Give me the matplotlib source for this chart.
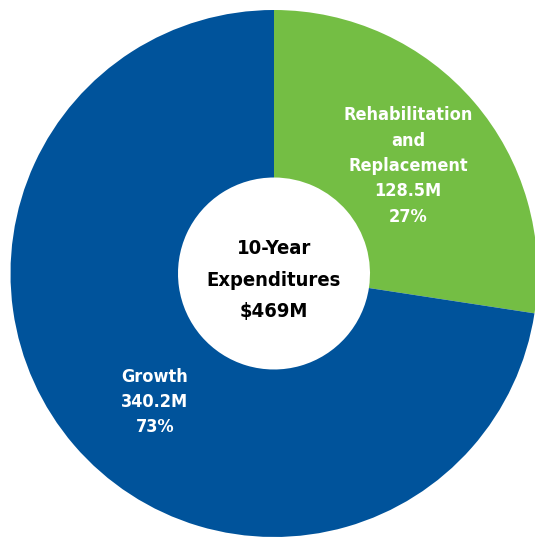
import matplotlib.pyplot as plt

# Data
categories = ["Rehabilitation\nand\nReplacement", "Growth"]
values = [128.5, 340.2]
percents = ["27%", "73%"]
colors = ["#74BE44", "#00539B"]
total_label = "10-Year\nExpenditures\n$469M"

W, H = 535, 538
fig = plt.figure(figsize=(W / 100, H / 100), dpi=100)
ax = fig.add_axes([0, 0, 1, 1])

# Donut, in pixel coordinates (y up)
cx, cy = 274, H - 273.5
R_out, R_in = 263.5, 96
ax.pie(values, colors=colors, startangle=90, counterclock=False,
       radius=R_out, center=(cx, cy),
       wedgeprops=dict(width=R_out - R_in, linewidth=0))
ax.set_xlim(0, W)
ax.set_ylim(0, H)
ax.set_aspect('auto')
ax.axis('off')

font = dict(family='DejaVu Sans', weight='bold', stretch='condensed')

# Slice labels
ax.text(408, H - 166, f"{categories[0]}\n{values[0]}M\n{percents[0]}",
        ha='center', va='center', color='white', fontsize=13,
        linespacing=1.52, **font)
ax.text(155, H - 402, f"{categories[1]}\n{values[1]}M\n{percents[1]}",
        ha='center', va='center', color='white', fontsize=13,
        linespacing=1.52, **font)

# Center label
ax.text(cx, H - 280, total_label, ha='center', va='center', color='black',
        fontsize=14.5, linespacing=1.85, **font)

fig.savefig('out.png', dpi=100)
